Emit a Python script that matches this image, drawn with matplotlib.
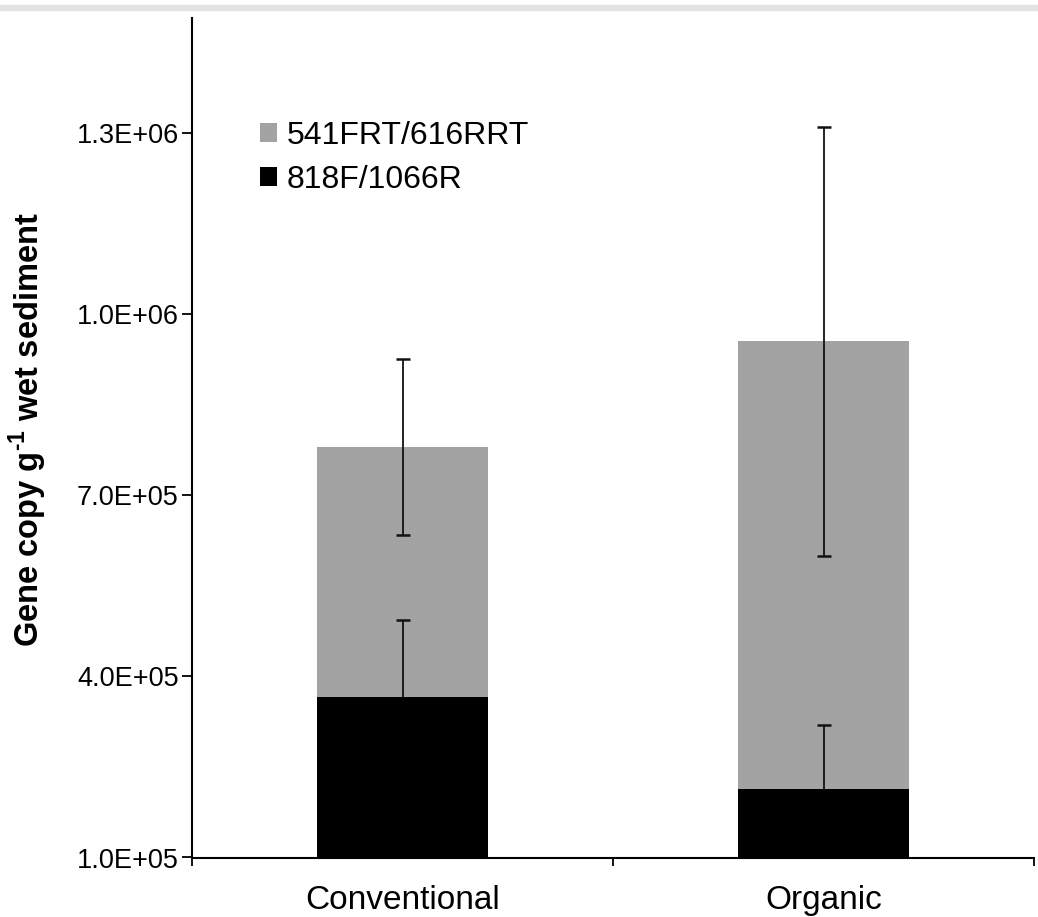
import numpy as np
import matplotlib
matplotlib.use("Agg")
import matplotlib.pyplot as plt
from matplotlib.lines import Line2D
from matplotlib.patches import Patch

plt.rcParams['font.family'] = ['Liberation Sans', 'DejaVu Sans']
plt.rcParams['mathtext.fontset'] = 'custom'
plt.rcParams['mathtext.rm'] = 'Liberation Sans:bold'
plt.rcParams['mathtext.bf'] = 'Liberation Sans:bold'

# qPCR gene copies per g wet sediment, two primer sets
sites = ['Conventional', 'Organic']
primer_labels = ['541FRT/616RRT', '818F/1066R']
copies_541 = [7.80e5, 9.55e5]
err_541 = [1.46e5, 3.55e5]
copies_818 = [3.65e5, 2.14e5]
err_818 = [1.28e5, 1.06e5]

ytick_vals = [1.0e5, 4.0e5, 7.0e5, 1.0e6, 1.3e6]
ytick_text = ['1.0E+05', '4.0E+05', '7.0E+05', '1.0E+06', '1.3E+06']

GRAY = '#a3a3a3'
BLACK = '#000000'
ERR = '#111111'

fig = plt.figure(figsize=(10.38, 9.17), dpi=100)
ax = fig.add_axes([192 / 1038, 1 - 857.5 / 917, 842 / 1038, (857.5 - 18) / 917])

x = np.arange(len(sites))
w = 0.405
ax.bar(x, copies_541, width=w, color=GRAY, zorder=2)
ax.bar(x, copies_818, width=w, color=BLACK, zorder=3)
ax.errorbar(x, copies_541, yerr=err_541, fmt='none', ecolor=ERR,
            elinewidth=1.3, capsize=4.8, capthick=1.8, zorder=4)
# lower half of these sits behind the black bars
ax.errorbar(x, copies_818, yerr=err_818, fmt='none', ecolor=ERR,
            elinewidth=1.3, capsize=4.8, capthick=1.8, zorder=2.5)

ax.set_xlim(-0.5, 1.5)
ax.set_ylim(1.0e5, 1.49e6)

# category boundaries carry the tick marks, names sit between them
ax.set_xticks([-0.5, 0.5, 1.5])
ax.set_xticklabels([])
ax.set_xticks(x, minor=True)
ax.set_xticklabels(sites, minor=True, fontsize=24)
ax.tick_params(axis='x', which='major', direction='out', length=6, width=1.3)
ax.tick_params(axis='x', which='minor', length=0, pad=20)

ax.set_yticks(ytick_vals)
ax.set_yticklabels(ytick_text, fontsize=19.5)
ax.tick_params(axis='y', direction='out', length=7, width=1.3, pad=2.5)

for side in ['top', 'right']:
    ax.spines[side].set_visible(False)
for side in ['left', 'bottom']:
    ax.spines[side].set_linewidth(1.5)

ax.set_ylabel(r'Gene copy g$^{\text{-1}}$ wet sediment', fontsize=23.5,
              fontweight='bold')
ax.yaxis.set_label_coords(-0.17, 0.51)

handles = [Patch(facecolor=GRAY), Patch(facecolor=BLACK)]
ax.legend(handles, primer_labels, loc='upper left', bbox_to_anchor=(0.065, 0.893),
          frameon=False, fontsize=23, handlelength=0.55, handleheight=0.55,
          handletextpad=0.3, labelspacing=0.45, borderaxespad=0)

# thin light band along the top edge
fig.add_artist(Line2D([0, 1], [1 - 8 / 917, 1 - 8 / 917], transform=fig.transFigure,
                      color='#e2e2e2', linewidth=4.5))

fig.savefig('out.png', dpi=100)
